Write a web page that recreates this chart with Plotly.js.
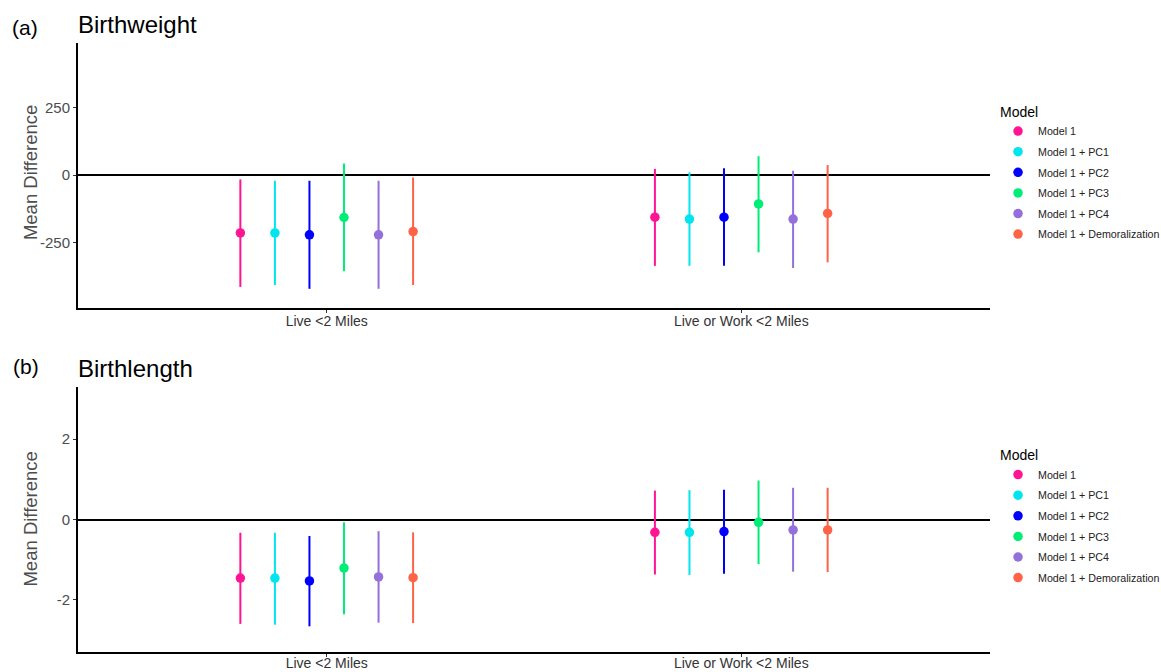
<!DOCTYPE html>
<html>
<head>
<meta charset="utf-8">
<script src="https://cdn.plot.ly/plotly-3.0.1.min.js"></script>
<style>html,body{margin:0;padding:0;background:#fff;}#chart{width:1161px;height:672px;}</style>
</head>
<body>
<div id="chart"></div>
<script>
const categories = ["Live <2 Miles", "Live or Work <2 Miles"];
const models = ["Model 1", "Model 1 + PC1", "Model 1 + PC2", "Model 1 + PC3", "Model 1 + PC4", "Model 1 + Demoralization"];
const colors = ["#FF1493", "#00E5EE", "#0000FF", "#00EE76", "#9370DB", "#FF6347"];

// Birthweight: [model][category]
const bwEstimate = [[-214, -156], [-214, -163], [-221, -156], [-157, -107], [-221, -163], [-209, -142]];
const bwLower    = [[-414, -336], [-407, -336], [-421, -336], [-356, -286], [-421, -344], [-407, -323]];
const bwUpper    = [[-16, 23], [-21, 10], [-21, 25], [43, 70], [-21, 16], [-9, 37]];

// Birthlength: [model][category]
const blEstimate = [[-1.46, -0.32], [-1.46, -0.32], [-1.53, -0.30], [-1.21, -0.07], [-1.43, -0.26], [-1.45, -0.26]];
const blLower    = [[-2.60, -1.37], [-2.62, -1.38], [-2.66, -1.35], [-2.36, -1.11], [-2.57, -1.30], [-2.58, -1.31]];
const blUpper    = [[-0.33, 0.72], [-0.33, 0.73], [-0.41, 0.74], [-0.07, 0.97], [-0.29, 0.79], [-0.32, 0.79]];

const bwTicks = [-250, 0, 250];
const blTicks = [-2, 0, 2];

const dodge = 0.5;
const catPos = categories.map((c, j) => j + 1);

function makeTraces(est, lo, hi, xaxis, yaxis, legend, grp) {
  return models.map((m, i) => {
    const off = (i - (models.length - 1) / 2) * dodge / models.length;
    return {
      type: "scatter",
      mode: "markers",
      name: m,
      legend: legend,
      legendgroup: grp + i,
      xaxis: xaxis,
      yaxis: yaxis,
      x: catPos.map(p => p + off),
      y: est[i],
      marker: {color: colors[i], size: 9.5},
      error_y: {
        type: "data",
        symmetric: false,
        array: est[i].map((v, j) => hi[i][j] - v),
        arrayminus: est[i].map((v, j) => v - lo[i][j]),
        color: colors[i],
        thickness: 2,
        width: 0
      },
      hoverinfo: "skip"
    };
  });
}

const traces = [].concat(
  makeTraces(bwEstimate, bwLower, bwUpper, "x", "y", "legend", "bw"),
  makeTraces(blEstimate, blLower, blUpper, "x2", "y2", "legend2", "bl")
);

const font = {family: "Liberation Sans, Arial, sans-serif"};
const xBase = {
  range: [0.4, 2.6], tickvals: catPos, ticktext: categories,
  showline: true, linecolor: "#000", linewidth: 2, mirror: false,
  ticks: "outside", ticklen: 3, tickcolor: "#333", tickwidth: 1,
  tickfont: {size: 14, color: "#333"}, ticklabelstandoff: -4,
  showgrid: false, zeroline: false, fixedrange: true
};
const yBase = {
  showline: true, linecolor: "#000", linewidth: 2,
  ticks: "outside", ticklen: 3, tickcolor: "#333", tickwidth: 1,
  tickfont: {size: 15, color: "#4d4d4d"}, ticklabelstandoff: 0,
  showgrid: false, zeroline: true, zerolinecolor: "#000", zerolinewidth: 2
};

const legendBase = {
  x: 1.0088, xanchor: "left", yanchor: "top",
  font: {size: 10.7, color: "#222"},
  title: {text: "Model", font: {size: 14, color: "#000"}},
  tracegroupgap: 1.6, itemwidth: 30
};

const layout = {
  width: 1161, height: 672,
  font: font,
  paper_bgcolor: "#fff", plot_bgcolor: "#fff",
  margin: {l: 78, r: 171, t: 43, b: 20, autoexpand: false},
  showlegend: true,
  xaxis: Object.assign({}, xBase, {domain: [0, 1], anchor: "y"}),
  yaxis: Object.assign({}, yBase, {domain: [0.5649, 1], anchor: "x", range: [-492, 489], tickvals: bwTicks, ticktext: bwTicks.map(String)}),
  xaxis2: Object.assign({}, xBase, {domain: [0, 1], anchor: "y2", ticklabelstandoff: -6}),
  yaxis2: Object.assign({}, yBase, {domain: [0, 0.4351], anchor: "x2", range: [-3.3, 3.3], tickvals: blTicks, ticktext: blTicks.map(String)}),
  legend: Object.assign({}, legendBase, {y: 0.909}),
  legend2: Object.assign({}, legendBase, {y: 0.345}),
  annotations: [
    {text: "(a)", xref: "paper", yref: "paper", x: -0.075, y: 1.026, xanchor: "left", yanchor: "middle", showarrow: false, font: {size: 21, color: "#000"}},
    {text: "Birthweight", xref: "paper", yref: "paper", x: -0.002, y: 1.0296, xanchor: "left", yanchor: "middle", showarrow: false, font: {size: 24, color: "#000"}},
    {text: "(b)", xref: "paper", yref: "paper", x: -0.073, y: 0.4696, xanchor: "left", yanchor: "middle", showarrow: false, font: {size: 21, color: "#000"}},
    {text: "Birthlength", xref: "paper", yref: "paper", x: -0.002, y: 0.466, xanchor: "left", yanchor: "middle", showarrow: false, font: {size: 24, color: "#000"}},
    {text: "Mean Difference", xref: "paper", yref: "paper", x: -0.0526, y: (0.5649 + 1) / 2 + 0.004, xanchor: "center", yanchor: "middle", textangle: -90, showarrow: false, font: {size: 18.5, color: "#4d4d4d"}},
    {text: "Mean Difference", xref: "paper", yref: "paper", x: -0.0526, y: 0.4351 / 2, xanchor: "center", yanchor: "middle", textangle: -90, showarrow: false, font: {size: 18.5, color: "#4d4d4d"}}
  ]
};

Plotly.newPlot("chart", traces, layout, {displayModeBar: false, staticPlot: true});
</script>
</body>
</html>
